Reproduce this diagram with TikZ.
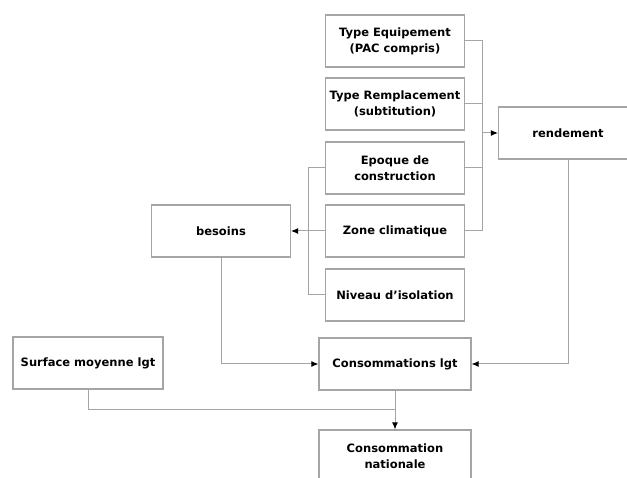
\documentclass[tikz,border=0pt]{standalone}
\usepackage{fontspec}
\setmainfont{DejaVu Sans}
\usetikzlibrary{arrows.meta,positioning}
\definecolor{linegray}{RGB}{165,165,165}

\begin{document}
\begin{tikzpicture}[x=1pt, y=-1pt, >={Latex[length=7pt,width=6pt,black]},
    box/.style={draw=linegray, line width=1.1pt, rectangle, minimum width=139pt, minimum height=52pt,
        align=center, font=\bfseries\fontsize{11.5}{16}\selectfont},
    link/.style={draw=linegray, line width=1pt}]
        \useasboundingbox (0,0) rectangle (627,478);
        \clip (0,0) rectangle (627,478);
        % input column
        \node[box] (equip) at (395,41) {Type Equipement\\(PAC compris)};
        \node[box] (rempl) at (395,104) {Type Remplacement\\(subtitution)};
        \node[box] (epoque) at (395,168) {Epoque de\\construction};
        \node[box] (zone) at (395,231) {Zone climatique};
        \node[box] (niveau) at (395,295) {Niveau d’isolation};
        % intermediate results
        \node[box] (rendement) at (568,133) {rendement};
        \node[box] (besoins) at (221,231) {besoins};
        \node[box, minimum width=150pt] (surface) at (88,363) {Surface moyenne lgt};
        \node[box, minimum width=152pt] (conso) at (395,364) {Consommations lgt};
        \node[box, minimum width=152pt] (nationale) at (395,456) {Consommation\\nationale};
        % bracket joints
        \coordinate (rb) at (482,133);
        \coordinate (lb) at (308,231);
        \coordinate (jn) at (395,410);
        % inputs to rendement
        \foreach \n in {equip,rempl,epoque,zone} {
            \draw[link] (\n.east) -| (rb);
        }
        \draw[link,->] (rb) -- (rendement.west);
        % inputs to besoins
        \draw[link] (epoque.west) -| (lb);
        \draw[link] (niveau.west) -| (lb);
        \draw[link,->] (zone.west) -- (besoins.east);
        % towards the consumption
        \draw[link,->] (besoins.south) |- (conso.west);
        \draw[link,->] (rendement.south) |- (conso.east);
        \draw[link] (surface.south) |- (jn);
        \draw[link,->] (conso.south) -- (nationale.north);
    \end{tikzpicture}
\end{document}
